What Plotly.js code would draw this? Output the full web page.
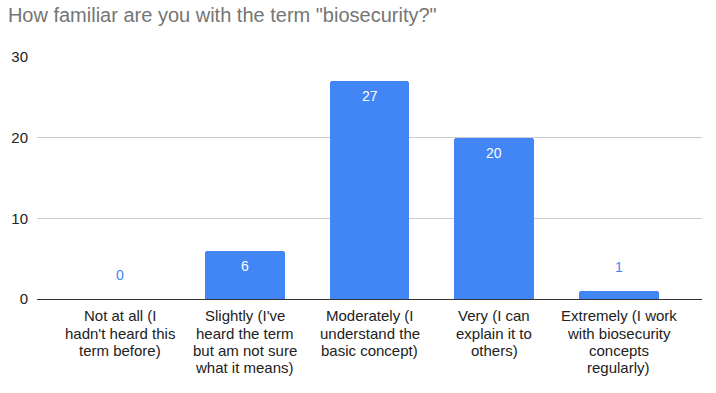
<!DOCTYPE html>
<html>
<head>
<meta charset="utf-8">
<script src="https://cdn.plot.ly/plotly-3.0.1.min.js"></script>
<style>html,body{margin:0;padding:0;background:#fff;}#chart{width:716px;height:393px;}</style>
</head>
<body>
<div id="chart"></div>
<script>
const categories = [
  "Not at all (I<br>hadn't heard this<br>term before)",
  "Slightly (I've<br>heard the term<br>but am not sure<br>what it means)",
  "Moderately (I<br>understand the<br>basic concept)",
  "Very (I can<br>explain it to<br>others)",
  "Extremely (I work<br>with biosecurity<br>concepts<br>regularly)"
];
const counts = [0, 6, 27, 20, 1];
const yTicks = [0, 10, 20, 30];

const barColor = '#4285F4';
const FONT = 'Arial, Liberation Sans, sans-serif';
const xIdx = categories.map((c, i) => i);

const annotations = counts.map((v, i) => {
  const inside = v >= 5;
  return {
    x: i, y: v, xref: 'x', yref: 'y',
    text: String(v), showarrow: false,
    yanchor: 'middle', xanchor: 'center',
    yshift: inside ? -15 : 24,
    font: {family: FONT, size: 14, color: inside ? '#ffffff' : barColor}
  };
});

// category labels, one annotation per line for Google-Charts-like line spacing
categories.forEach((c, i) => {
  c.split('<br>').forEach((line, k) => {
    annotations.push({
      x: i, y: 0, xref: 'x', yref: 'paper',
      text: line, showarrow: false,
      xanchor: 'center', yanchor: 'middle',
      yshift: -(16.7 + 17.3 * k),
      font: {family: FONT, size: 15, color: '#222'}
    });
  });
});

const trace = {
  type: 'bar',
  x: xIdx,
  y: counts,
  width: 0.64,
  marker: {color: barColor, cornerradius: 3},
  hoverinfo: 'none'
};

const layout = {
  width: 716, height: 393,
  margin: {l: 37, r: 14, t: 57, b: 94},
  paper_bgcolor: '#fff', plot_bgcolor: '#fff',
  title: {
    text: 'How familiar are you with the term "biosecurity?"',
    x: 0.011, xanchor: 'left', y: 0.962, yanchor: 'middle',
    font: {family: FONT, size: 20, color: '#757575'}
  },
  showlegend: false,
  bargap: 0,
  xaxis: {
    range: [-0.666, 4.666],
    tickmode: 'array', tickvals: xIdx,
    showticklabels: false,
    showgrid: false, zeroline: false,
    showline: true, linecolor: '#333', linewidth: 1,
    ticks: ''
  },
  yaxis: {
    range: [0, 30],
    tickmode: 'array', tickvals: yTicks,
    showgrid: true, gridcolor: '#cccccc', gridwidth: 1,
    zeroline: false, showline: false, ticks: '',
    ticklabelstandoff: 8,
    tickfont: {family: FONT, size: 15, color: '#222'}
  },
  annotations: annotations
};

Plotly.newPlot('chart', [trace], layout, {displayModeBar: false, staticPlot: true});
</script>
</body>
</html>
